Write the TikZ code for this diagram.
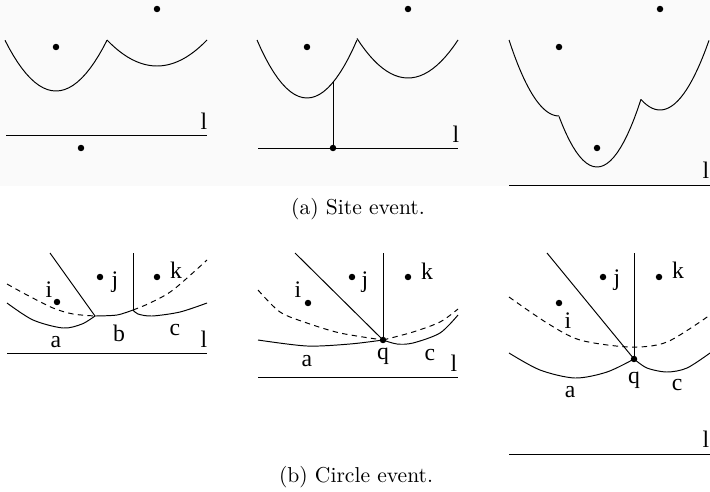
\documentclass[tikz,border=0pt]{standalone}
\usepackage{fontspec}
\usepackage{tikz}
\newfontfamily\tms{Liberation Serif}
\usetikzlibrary{positioning}

\tikzset{
  site/.style={circle, fill=black, inner sep=0pt, minimum size=3pt},
  lab/.style={font=\tms\fontsize{11}{13}\selectfont, inner sep=0pt, anchor=base},
  beach/.style={line width=0.45pt},
  old/.style={line width=0.45pt, dash pattern=on 2.5pt off 2pt},
}

\begin{document}
\begin{tikzpicture}[x=0.0163cm, y=-0.0163cm]
  \useasboundingbox (0,0) rectangle (710,491);
  \fill[black!2] (0,0) rectangle (710,186);

  % site event: before
  \node[site] (a1p) at (56,47) {};
  \node[site] (a1r) at (157,9) {};
  \node[site] (a1n) at (81,148) {};
  \draw[beach] plot[domain=5:107] (\x,{91-0.0195*(\x-56)^2});
  \draw[beach] plot[domain=107:207] (\x,{66-0.0104*(\x-157)^2});
  \draw[beach] (6,135) -- (207,135);
  \node[lab] (a1l) at (204,129) {l};

  % site event: hit
  \node[site] (a2p) at (307,47) {};
  \node[site] (a2r) at (408,9) {};
  \node[site] (a2n) at (333,148) {};
  \coordinate (a2up) at (333,82.3);
  \draw[beach] plot[domain=257:357] (\x,{98-0.0232*(\x-307)^2});
  \draw[beach] plot[domain=357:458] (\x,{78-0.0152*(\x-408)^2});
  \draw[beach] (258,148) -- (458,148);
  \draw[beach] (a2n.center) -- (a2up);
  \node[lab] (a2l) at (456,142) {l};

  % site event: after
  \node[site] (a3p) at (559,47) {};
  \node[site] (a3r) at (660,9) {};
  \node[site] (a3n) at (597,148) {};
  \draw[beach] plot[domain=509:559] (\x,{116-0.0304*(\x-559)^2});
  \draw[beach] plot[domain=559:641] (\x,{167-0.035*(\x-597)^2});
  \draw[beach] plot[domain=641:709] (\x,{110-0.029*(\x-660)^2});
  \draw[beach] (509,185) -- (710,185);
  \node[lab] (a3l) at (706,178) {l};

  \node[anchor=base] (capa) at (358,214) {(a) Site event.};

  % circle event: before
  \node[site] (b1i) at (57,302) {};
  \node[site] (b1j) at (100,277) {};
  \node[site] (b1k) at (157,277) {};
  \coordinate (b1e) at (50,253);
  \coordinate (b1f) at (133,253);
  \coordinate (b1x) at (95,316);
  \coordinate (b1y) at (133,310);
  \draw[beach] (b1e) -- (b1x);
  \draw[beach] (b1f) -- (b1y);
  \draw[old] plot[smooth] coordinates {(7,284) (27,295) (53,308) (73,314) (95,316)};
  \draw[old] plot[smooth] coordinates {(133,310) (150,303) (173,290) (207,260)};
  \draw[beach] plot[smooth] coordinates {(7,303) (33,320) (63,328) (82,324) (95,316)};
  \draw[beach] plot[smooth] coordinates {(95,316) (117,315) (133,310)};
  \draw[beach] plot[smooth] coordinates {(133,310) (138,314) (152,316) (180,312) (207,303)};
  \draw[beach] (7,353) -- (207,353);
  \node[lab] (b1il) at (49,297) {i};
  \node[lab] (b1jl) at (115,287) {j};
  \node[lab] (b1kl) at (176,278) {k};
  \node[lab] (b1al) at (56,347) {a};
  \node[lab] (b1bl) at (119,341) {b};
  \node[lab] (b1cl) at (175,335) {c};
  \node[lab] (b1ll) at (204,347) {l};

  % circle event: at q
  \node[site] (b2i) at (308,303) {};
  \node[site] (b2j) at (352,277) {};
  \node[site] (b2k) at (408,277) {};
  \node[site] (b2q) at (383,340) {};
  \coordinate (b2e) at (295,253);
  \coordinate (b2f) at (383,253);
  \draw[beach] (b2e) -- (b2q.center);
  \draw[beach] (b2f) -- (b2q.center);
  \draw[old] plot[smooth] coordinates {(258,290) (280,312) (307,323) (340,333) (383,340)};
  \draw[old] plot[smooth] coordinates {(383,340) (413,332) (440,322) (458,309)};
  \draw[beach] plot[smooth] coordinates {(258,340) (307,346) (350,344) (383,340)};
  \draw[beach] plot[smooth] coordinates {(383,340) (397,344) (413,343) (440,333) (458,315)};
  \draw[beach] (258,377) -- (458,377);
  \node[lab] (b2il) at (298,297) {i};
  \node[lab] (b2jl) at (365,287) {j};
  \node[lab] (b2kl) at (427,279) {k};
  \node[lab] (b2ql) at (383,359) {q};
  \node[lab] (b2al) at (307,366) {a};
  \node[lab] (b2cl) at (430,360) {c};
  \node[lab] (b2ll) at (454,371) {l};

  % circle event: after
  \node[site] (b3i) at (559,303) {};
  \node[site] (b3j) at (603,277) {};
  \node[site] (b3k) at (659,277) {};
  \node[site] (b3q) at (634,359) {};
  \coordinate (b3e) at (547,253);
  \coordinate (b3f) at (634,253);
  \draw[beach] (b3e) -- (b3q.center);
  \draw[beach] (b3f) -- (b3q.center);
  \draw[old] plot[smooth] coordinates {(509,297) (547,323) (580,340) (630,347) (667,342) (710,315)};
  \draw[beach] plot[smooth] coordinates {(509,353) (540,370) (575,378) (607,372) (634,359)};
  \draw[beach] plot[smooth] coordinates {(634,359) (647,368) (667,372) (687,368) (710,353)};
  \draw[beach] (509,454) -- (710,454);
  \node[lab] (b3il) at (568,328) {i};
  \node[lab] (b3jl) at (617,285) {j};
  \node[lab] (b3kl) at (678,278) {k};
  \node[lab] (b3ql) at (634,383) {q};
  \node[lab] (b3al) at (570,397) {a};
  \node[lab] (b3cl) at (677,390) {c};
  \node[lab] (b3ll) at (706,447) {l};

  \node[anchor=base] (capb) at (356,482) {(b) Circle event.};
\end{tikzpicture}
\end{document}
